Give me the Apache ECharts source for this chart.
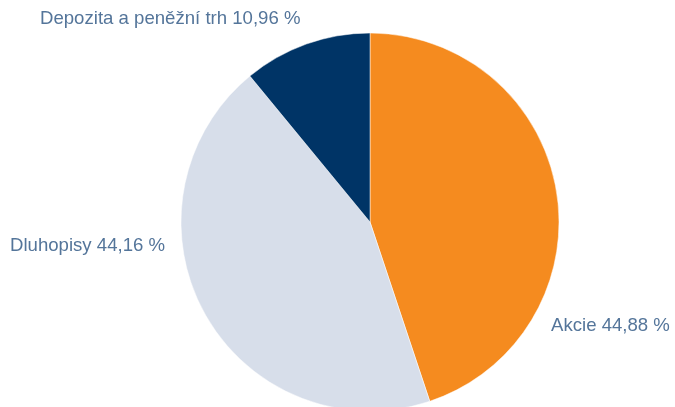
<!DOCTYPE html>
<html><head><meta charset="utf-8">
<script src="https://cdn.jsdelivr.net/npm/echarts@6/dist/echarts.min.js"></script>
<style>html,body{margin:0;padding:0;background:#fff}#c{width:675px;height:407px}</style>
</head><body><div id="c"></div>
<script>
const categories = ['Akcie', 'Dluhopisy', 'Depozita a peněžní trh'];
const values = [44.88, 44.16, 10.96];
const labelTexts = ['Akcie 44,88 %', 'Dluhopisy 44,16 %', 'Depozita a peněžní trh 10,96 %'];
const colors = ['#F58B1F', '#D7DEEA', '#003466'];
const labelPos = [[551, 326, 'left'], [10, 246, 'left'], [40, 19, 'left']];

const chart = echarts.init(document.getElementById('c'));
chart.setOption({
  animation: false,
  series: [{
    type: 'pie',
    center: [370, 222],
    radius: [0, 189],
    startAngle: 90,
    clockwise: true,
    data: categories.map((c, i) => ({ name: c, value: values[i], itemStyle: { color: colors[i] } })),
    itemStyle: { borderColor: '#ffffff', borderWidth: 0.5 },
    label: {
      show: true,
      position: 'outside',
      formatter: p => labelTexts[p.dataIndex],
      color: '#54759A',
      fontFamily: 'Liberation Sans, Arial, sans-serif',
      fontSize: 18.6,
      overflow: 'none',
      width: 400
    },
    labelLine: { show: false },
    labelLayout: p => ({ x: labelPos[p.dataIndex][0], y: labelPos[p.dataIndex][1], align: labelPos[p.dataIndex][2], verticalAlign: 'middle', hideOverlap: false, moveOverlap: false }),
    emphasis: { disabled: true }
  }]
});
</script></body></html>
